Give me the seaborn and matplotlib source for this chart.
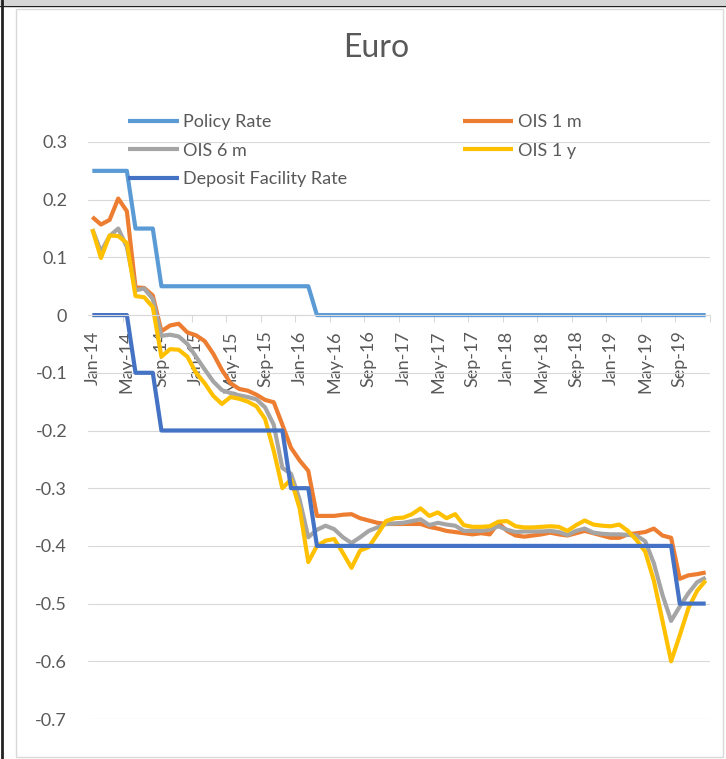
import matplotlib
matplotlib.use("Agg")
import matplotlib.pyplot as plt
from matplotlib.patches import Rectangle
from matplotlib.lines import Line2D
import numpy as np
import pandas as pd
import seaborn as sns

# monthly values, Jan-14 .. Dec-19
policy_rate = [0.25, 0.25, 0.25, 0.25, 0.25, 0.15, 0.15, 0.15, 0.05, 0.05, 0.05, 0.05,
               0.05, 0.05, 0.05, 0.05, 0.05, 0.05, 0.05, 0.05, 0.05, 0.05, 0.05, 0.05,
               0.05, 0.05, 0, 0, 0, 0, 0, 0, 0, 0, 0, 0,
               0, 0, 0, 0, 0, 0, 0, 0, 0, 0, 0, 0,
               0, 0, 0, 0, 0, 0, 0, 0, 0, 0, 0, 0,
               0, 0, 0, 0, 0, 0, 0, 0, 0, 0, 0, 0]
ois_1m = [0.170, 0.157, 0.165, 0.202, 0.180, 0.048, 0.047, 0.034, -0.028, -0.018, -0.015, -0.030,
          -0.035, -0.045, -0.067, -0.095, -0.118, -0.128, -0.131, -0.138, -0.147, -0.151, -0.190, -0.230,
          -0.252, -0.270, -0.348, -0.348, -0.348, -0.346, -0.345, -0.352, -0.356, -0.360, -0.362, -0.362,
          -0.362, -0.362, -0.362, -0.367, -0.370, -0.374, -0.376, -0.378, -0.380, -0.378, -0.380, -0.360,
          -0.374, -0.382, -0.384, -0.382, -0.380, -0.377, -0.380, -0.382, -0.378, -0.374, -0.378, -0.382,
          -0.386, -0.386, -0.380, -0.378, -0.376, -0.370, -0.382, -0.386, -0.457, -0.451, -0.449, -0.446]
ois_6m = [0.149, 0.110, 0.137, 0.150, 0.118, 0.043, 0.046, 0.028, -0.036, -0.034, -0.037, -0.050,
          -0.072, -0.094, -0.115, -0.130, -0.135, -0.139, -0.142, -0.146, -0.160, -0.190, -0.265, -0.275,
          -0.320, -0.385, -0.372, -0.365, -0.371, -0.385, -0.395, -0.385, -0.374, -0.368, -0.362, -0.361,
          -0.360, -0.357, -0.354, -0.364, -0.360, -0.363, -0.365, -0.374, -0.374, -0.374, -0.372, -0.366,
          -0.372, -0.376, -0.375, -0.375, -0.375, -0.374, -0.376, -0.381, -0.374, -0.370, -0.377, -0.379,
          -0.380, -0.380, -0.381, -0.382, -0.392, -0.430, -0.485, -0.530, -0.505, -0.482, -0.463, -0.455]
ois_1y = [0.149, 0.099, 0.138, 0.137, 0.125, 0.033, 0.031, 0.014, -0.072, -0.059, -0.060, -0.072,
          -0.100, -0.118, -0.140, -0.154, -0.142, -0.145, -0.150, -0.158, -0.180, -0.235, -0.300, -0.285,
          -0.335, -0.428, -0.400, -0.391, -0.388, -0.412, -0.438, -0.408, -0.402, -0.380, -0.357, -0.352,
          -0.351, -0.345, -0.335, -0.348, -0.342, -0.352, -0.345, -0.364, -0.367, -0.367, -0.366, -0.358,
          -0.357, -0.366, -0.368, -0.368, -0.367, -0.366, -0.367, -0.374, -0.364, -0.356, -0.363, -0.365,
          -0.366, -0.363, -0.374, -0.390, -0.410, -0.460, -0.530, -0.600, -0.555, -0.508, -0.478, -0.460]
deposit_rate = [0, 0, 0, 0, 0, -0.1, -0.1, -0.1, -0.2, -0.2, -0.2, -0.2,
                -0.2, -0.2, -0.2, -0.2, -0.2, -0.2, -0.2, -0.2, -0.2, -0.2, -0.2, -0.3,
                -0.3, -0.3, -0.4, -0.4, -0.4, -0.4, -0.4, -0.4, -0.4, -0.4, -0.4, -0.4,
                -0.4, -0.4, -0.4, -0.4, -0.4, -0.4, -0.4, -0.4, -0.4, -0.4, -0.4, -0.4,
                -0.4, -0.4, -0.4, -0.4, -0.4, -0.4, -0.4, -0.4, -0.4, -0.4, -0.4, -0.4,
                -0.4, -0.4, -0.4, -0.4, -0.4, -0.4, -0.4, -0.4, -0.5, -0.5, -0.5, -0.5]

tick_labels = ['Jan-14', 'May-14', 'Sep-14', 'Jan-15', 'May-15', 'Sep-15',
               'Jan-16', 'May-16', 'Sep-16', 'Jan-17', 'May-17', 'Sep-17',
               'Jan-18', 'May-18', 'Sep-18', 'Jan-19', 'May-19', 'Sep-19']
y_ticks = [0.3, 0.2, 0.1, 0, -0.1, -0.2, -0.3, -0.4, -0.5, -0.6, -0.7]
y_tick_labels = ['0.3', '0.2', '0.1', '0', '-0.1', '-0.2', '-0.3', '-0.4', '-0.5', '-0.6', '-0.7']

df = pd.DataFrame({
    'month': np.arange(len(policy_rate)),
    'Policy Rate': policy_rate,
    'OIS 1 m': ois_1m,
    'OIS 6 m': ois_6m,
    'OIS 1 y': ois_1y,
    'Deposit Facility Rate': deposit_rate,
})
colors = {'Policy Rate': '#5B9BD5', 'OIS 1 m': '#ED7D31', 'OIS 6 m': '#A5A5A5',
          'OIS 1 y': '#FFC000', 'Deposit Facility Rate': '#4472C4'}

sns.set_theme(style='white')
plt.rcParams['font.family'] = ['Lato', 'DejaVu Sans']
grey_text = '#595959'
grid_col = '#d9d9d9'

W, H = 726, 759
fig = plt.figure(figsize=(W / 100, H / 100), dpi=100)
ax = fig.add_axes([88 / W, 1 - 719 / H, (710 - 88) / W, (719 - 142) / H])

for name in ['Policy Rate', 'OIS 1 m', 'OIS 6 m', 'OIS 1 y', 'Deposit Facility Rate']:
    sns.lineplot(data=df, x='month', y=name, ax=ax, color=colors[name], lw=3,
                 label=name, solid_joinstyle='round', solid_capstyle='butt')

# axis crosses at zero (set before the ticks, it resets them)
for s in ['top', 'right', 'left']:
    ax.spines[s].set_visible(False)
ax.spines['bottom'].set_position(('data', 0))
ax.spines['bottom'].set_color(grid_col)
ax.spines['bottom'].set_linewidth(0.8)

ax.set_xlim(-0.5, len(policy_rate) - 0.5)
ax.set_ylim(-0.7, 0.3)
ax.set_xlabel('')
ax.set_ylabel('')

ax.set_xticks(np.arange(0, len(policy_rate), 4))
ax.set_xticklabels(tick_labels)
ax.set_xticks(np.arange(3.5, len(policy_rate), 4), minor=True)
ax.set_yticks(y_ticks)
ax.set_yticklabels(y_tick_labels)
ax.tick_params(axis='x', which='major', length=0, pad=11, labelsize=13, labelcolor=grey_text,
               labelrotation=90)
ax.tick_params(axis='x', which='minor', length=5, width=0.75, color=grid_col, direction='out', bottom=True)
ax.tick_params(axis='y', length=0, pad=15, labelsize=13, labelcolor=grey_text)
for lbl in ax.get_xticklabels():
    lbl.set_va('top')
    lbl.set_ha('center')

ax.yaxis.grid(True, color=grid_col, lw=0.8)
ax.xaxis.grid(False)

handles, labels = ax.get_legend_handles_labels()
ax.get_legend().remove()
order = ['Policy Rate', 'OIS 6 m', 'Deposit Facility Rate', 'OIS 1 m', 'OIS 1 y']
leg = fig.legend([handles[labels.index(o)] for o in order], order, ncol=2, frameon=False,
                 loc='upper left', bbox_to_anchor=(128 / W, 1 - 114 / H), fontsize=13,
                 handlelength=2.8, handletextpad=0.25, columnspacing=6.4, labelspacing=0.7,
                 borderpad=0, borderaxespad=0)
for t in leg.get_texts():
    t.set_color(grey_text)

fig.text(376 / W, 1 - 48 / H, 'Euro', ha='center', va='center', fontsize=23, color=grey_text)

# chart frame like the spreadsheet screenshot
fig.add_artist(Rectangle((0, 1 - 5 / H), 1, 5 / H, transform=fig.transFigure,
                         color='#d6d6d6', lw=0))
fig.add_artist(Line2D([0, 1], [1 - 5.5 / H] * 2, transform=fig.transFigure, color='#222222', lw=1))
fig.add_artist(Line2D([1.5 / W] * 2, [0, 1], transform=fig.transFigure, color='#222222', lw=2))
fig.add_artist(Rectangle((15.5 / W, 1 - 757 / H), (722.5 - 15.5) / W, (757 - 9) / H,
                         transform=fig.transFigure, fill=False, ec=grid_col, lw=1))

fig.savefig('out.png', dpi=100)
